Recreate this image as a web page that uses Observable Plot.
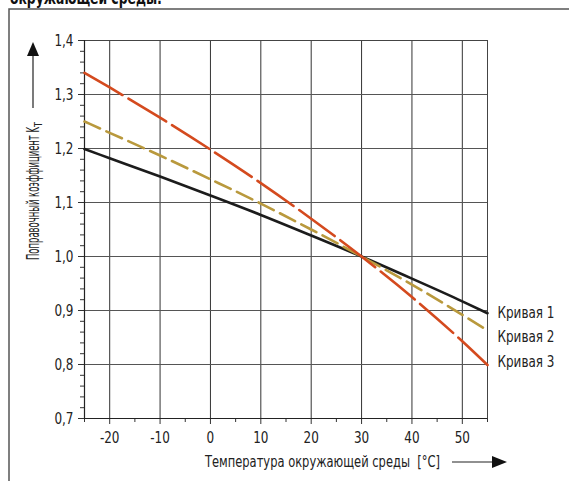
<!DOCTYPE html>
<html><head><meta charset="utf-8">
<script src="https://cdn.jsdelivr.net/npm/d3@7"></script>
<script src="https://cdn.jsdelivr.net/npm/@observablehq/plot@0.6"></script>
<style>
body{margin:0;background:#fff;}
svg{display:block;}
</style></head>
<body><div id="chart"></div>
<script>
const temps = [-25, -20, -10, 0, 10, 20, 30, 40, 50, 55];
const curve1 = [1.199, 1.182, 1.148, 1.113, 1.077, 1.039, 1.0, 0.959, 0.917, 0.895];
const curve2 = [1.25, 1.229, 1.187, 1.143, 1.098, 1.050, 1.0, 0.948, 0.892, 0.863];
const curve3 = [1.34, 1.313, 1.257, 1.198, 1.136, 1.070, 1.0, 0.925, 0.843, 0.799];
const seriesNames = ["Кривая 1", "Кривая 2", "Кривая 3"];
const xTicks = [-20, -10, 0, 10, 20, 30, 40, 50];
const yTicks = [0.7, 0.8, 0.9, 1.0, 1.1, 1.2, 1.3, 1.4];
const xMinor = [-25, -15, -5, 5, 15, 25, 35, 45, 55];
const yMinor = d3.range(0.70, 1.401, 0.02).map(v => +v.toFixed(2));
const titleText = "окружающей среды:";
const xLabel = "Температура окружающей среды  [°C]";
const yLabel = "Поправочный коэффициент K";

const colors = ["#1c1c1c", "#b9993d", "#d44a1e"];
const dashes = [null, "17,7", "44,7"];
const labelDy = [0, 6, -3];
const all = [curve1, curve2, curve3];
const data = all.flatMap((c, i) => temps.map((t, j) => ({t, k: c[j], s: seriesNames[i]})));
const font = "'DejaVu Sans', sans-serif";

const chart = Plot.plot({
  width: 569, height: 481,
  marginLeft: 84, marginRight: 82, marginTop: 40, marginBottom: 63,
  style: {fontFamily: font, fontSize: "16px", color: "#222", background: "#fff"},
  x: {domain: [-25, 55], axis: null},
  y: {domain: [0.7, 1.4], axis: null},
  marks: [
    Plot.gridX(xTicks, {stroke: "#333", strokeOpacity: 1, strokeWidth: 1}),
    Plot.gridY(yTicks, {stroke: "#555", strokeOpacity: 1, strokeWidth: 1}),
    Plot.frame({stroke: "#444", strokeWidth: 1}),
    Plot.axisX(xMinor, {tickSize: 4, text: null, label: null, stroke: "#333"}),
    Plot.axisX(xTicks, {tickSize: 6, tickPadding: 7, stroke: "#333", label: null, tickFormat: d => String(d), fontSize: 16}),
    Plot.axisY(yMinor, {tickSize: 4, text: null, label: null, stroke: "#333"}),
    Plot.axisY(yTicks, {tickSize: 6, tickPadding: 5, stroke: "#333", label: null, tickFormat: d => d.toFixed(1).replace(".", ","), fontSize: 16}),
    Plot.ruleX([-25], {stroke: "#222", strokeWidth: 1.2}),
    Plot.ruleY([0.7], {stroke: "#222", strokeWidth: 1.2}),
    ...seriesNames.map((name, i) =>
      Plot.line(data.filter(d => d.s === name), {
        x: "t", y: "k", curve: "monotone-x",
        stroke: colors[i], strokeWidth: 2.6,
        strokeDasharray: dashes[i]
      })
    ),
    ...seriesNames.map((name, i) =>
      Plot.text([{t: temps[temps.length - 1], k: all[i][all[i].length - 1], s: name}],
        {x: "t", y: "k", text: "s", textAnchor: "start", dx: 10, dy: labelDy[i], fontSize: 16, fill: "#222"})
    )
  ]
});

document.getElementById("chart").appendChild(chart);
const svg = d3.select(chart);

// condensed look for Plot's texts: horizontal squeeze about each text's anchor
svg.selectAll("text").each(function(){
  const x = +(this.getAttribute("x") || 0);
  const tr = this.getAttribute("transform") || "";
  this.setAttribute("transform", `${tr} translate(${x},0) scale(0.75,1) translate(${-x},0)`.trim());
});

// outer frame box
svg.insert("rect", ":first-child").attr("x", 9).attr("y", 9).attr("width", 600).attr("height", 600)
  .attr("fill", "none").attr("stroke", "#555").attr("stroke-width", 1.5);
// cut-off title
svg.append("text").attr("x", 10).attr("y", 4).attr("text-anchor", "start").attr("font-weight", "bold").attr("font-size", 17)
  .attr("font-family", font).attr("fill", "#111")
  .attr("textLength", 152).attr("lengthAdjust", "spacingAndGlyphs").text(titleText);
// x label and arrow
svg.append("text").attr("x", 205).attr("y", 467).attr("text-anchor", "start").attr("font-size", 16)
  .attr("font-family", font).attr("fill", "#222")
  .attr("textLength", 235).attr("lengthAdjust", "spacingAndGlyphs").text(xLabel);
svg.append("line").attr("x1", 452).attr("x2", 495).attr("y1", 462).attr("y2", 462).attr("stroke", "#222").attr("stroke-width", 1.2);
svg.append("path").attr("d", "M492,456 L507,462 L492,468 Z").attr("fill", "#111");
// y label and arrow
const yl = svg.append("text").attr("transform", "translate(39,260) rotate(-90)").attr("text-anchor", "start")
  .attr("font-size", 17).attr("font-family", font).attr("fill", "#222");
yl.append("tspan").attr("textLength", 133).attr("lengthAdjust", "spacingAndGlyphs").text(yLabel);
yl.append("tspan").attr("font-size", 10).attr("dy", 3).attr("textLength", 5).attr("lengthAdjust", "spacingAndGlyphs").text("T");
svg.append("line").attr("x1", 33).attr("x2", 33).attr("y1", 52).attr("y2", 108).attr("stroke", "#222").attr("stroke-width", 1.2);
svg.append("path").attr("d", "M27,56 L33,42 L39,56 Z").attr("fill", "#111");
</script>
</body></html>
